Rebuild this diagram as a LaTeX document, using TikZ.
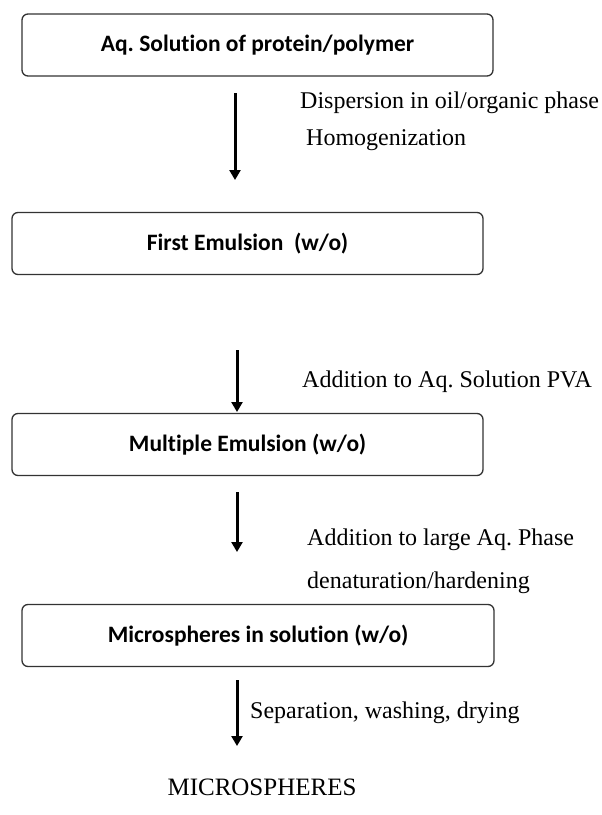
\documentclass[tikz,border=0pt]{standalone}
\usepackage{fontspec}
\setmainfont{Liberation Serif}
\newfontfamily\boxfont{Carlito}[Ligatures=NoCommon]
\usetikzlibrary{positioning,arrows.meta}
\frenchspacing

\begin{document}
\begin{tikzpicture}[x=1pt,y=-1pt,
	stage/.style={draw=black!80,line width=1.3pt,rounded corners=6pt,minimum height=62pt,
		font=\boxfont\bfseries\fontsize{23.5}{26}\selectfont},
	note/.style={anchor=west,inner sep=0pt,font=\fontsize{24}{28}\selectfont},
	flow/.style={line width=3pt,-{Triangle[width=11pt,length=10pt]}}]
	
	\useasboundingbox (0,0) rectangle (602,815);
	
	% Kästen
	\node[stage,minimum width=471pt] (aqsol) at (257.5,45) {Aq. Solution of protein/polymer};
	\node[stage,minimum width=471pt] (firstem) at (247.5,243.5) {First Emulsion\ \ (w/o)};
	\node[stage,minimum width=471pt] (multem) at (247.5,444.5) {Multiple Emulsion (w/o)};
	\node[stage,minimum width=472pt] (msol) at (258,635.5) {Microspheres in solution (w/o)};
	\node[font=\fontsize{25}{28}\selectfont] (micro) at (262,787) {MICROSPHERES};
	
	% Pfeilenden
	\coordinate (a1top) at (235,93);   \coordinate (a1tip) at (235,180);
	\coordinate (a2top) at (237,350);  \coordinate (a2tip) at (237,412);
	\coordinate (a3top) at (237,492);  \coordinate (a3tip) at (237,552);
	\coordinate (a4top) at (237,680);  \coordinate (a4tip) at (237,746);
	\foreach \i in {1,...,4} { \draw[flow] (a\i top) -- (a\i tip); }
	
	% Beschriftungen
	\node[note] (disp) at (300,103) {Dispersion in oil/organic phase};
	\node[note] (homog) at (306,140) {Homogenization};
	\node[note] (addpva) at (302,382) {Addition to Aq. Solution PVA};
	\node[note] (addaq) at (307,540) {Addition to large Aq. Phase};
	\node[note] (denat) at (307,583) {denaturation/hardening};
	\node[note] (sepwash) at (250,713) {Separation, washing, drying};
\end{tikzpicture}
\end{document}
